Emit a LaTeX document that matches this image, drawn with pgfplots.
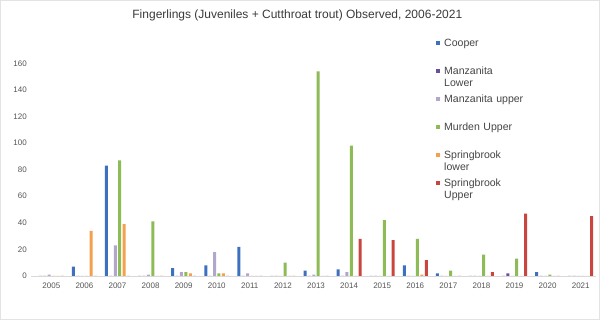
\documentclass[border=0pt]{standalone}
\usepackage{fontspec}
\setmainfont{Liberation Sans}
\usepackage{pgfplots}
\usepackage{pgfplotstable}
\pgfplotsset{compat=1.18}
\definecolor{cooper}{HTML}{3E70C0}
\definecolor{manzlow}{HTML}{6B4E9E}
\definecolor{manzup}{HTML}{B2A6CB}
\definecolor{murden}{HTML}{8DBB55}
\definecolor{sprlow}{HTML}{F3A04F}
\definecolor{sprup}{HTML}{C9453F}
\definecolor{titlegray}{HTML}{3A3A3A}
\definecolor{labelgray}{HTML}{555555}
\definecolor{leggray}{HTML}{444444}
\pgfplotstableread{
x cooper manzlow manzup murden sprlow sprup
0 0 0 1 0 0 0
1 7 0 0 0 34 0
2 83 0 23 87 39 0
3 0 0 1 41 0 0
4 6 0 3 3 2 0
5 8 0 18 2 2 0
6 22 0 2 0 0 0
7 0 0 0 10 0 0
8 4 0 1 154 0 0
9 5 0 3 98 0 28
10 0 0 0 42 0 27
11 8 0 0 28 1 12
12 2 0 0 4 0 0
13 0 0 0 16 0 3
14 0 2 0 13 0 47
15 3 0 0 1 0 0
16 0 0 0 0 0 45
}\datatable
\begin{document}
\begin{tikzpicture}
\path[use as bounding box] (0,0) rectangle (450pt,240pt);
\draw[gray!22, line width=0.9pt] (0.45pt,0.45pt) rectangle (449.55pt,239.55pt);
\begin{axis}[
  at={(23.6pt,33pt)}, anchor=south west,
  scale only axis, width=423.1pt, height=159.5pt,
  xmin=-0.6, xmax=16.45, ymin=0, ymax=160,
  ybar=1.05pt, bar width=2.25pt,
  every axis plot post/.append style={
    legend image code/.code={
      \path (0pt,-8.1pt) (3pt,8.1pt);
      \fill[##1, draw=none] (0pt,5.1pt) rectangle (3pt,8.1pt);
    }
  },
  axis x line*=bottom, axis y line*=left,
  x axis line style={-, gray!30, line width=0.5pt},
  y axis line style={draw=none},
  major tick length=0pt,
  xtick={0,...,16},
  xticklabels={2005,2006,2007,2008,2009,2010,2011,2012,2013,2014,2015,2016,2017,2018,2019,2020,2021},
  ytick={0,20,...,160},
  /pgf/number format/assume math mode=true,
  xticklabel style={font=\fontsize{6}{7}\selectfont, text=labelgray, inner sep=0pt, anchor=north, yshift=-5.35pt},
  yticklabel style={font=\fontsize{6}{7}\selectfont, text=labelgray, inner sep=0pt, anchor=east, xshift=-3.3pt},
  legend style={draw=none, fill=none, inner sep=0pt, at={(0.717,1.12)}, anchor=north west,
    row sep=0pt, column sep=0pt, font=\fontsize{7.9}{9}\selectfont, text=leggray,
    nodes={inner xsep=3pt, inner ysep=0pt, text width=80pt, align=left,
           text height=6.3pt, text depth=14.7pt}},
  legend cell align=left,
  clip=false,
]
\addplot[fill=cooper, draw=none] table[x=x, y=cooper] {\datatable};
\addlegendentry{Cooper}
\addplot[fill=manzlow, draw=none] table[x=x, y=manzlow] {\datatable};
\addlegendentry{Manzanita\\Lower}
\addplot[fill=manzup, draw=none] table[x=x, y=manzup] {\datatable};
\addlegendentry{Manzanita upper}
\addplot[fill=murden, draw=none] table[x=x, y=murden] {\datatable};
\addlegendentry{Murden Upper}
\addplot[fill=sprlow, draw=none] table[x=x, y=sprlow] {\datatable};
\addlegendentry{Springbrook\\lower}
\addplot[fill=sprup, draw=none] table[x=x, y=sprup] {\datatable};
\addlegendentry{Springbrook\\Upper}
\end{axis}
\node[font=\fontsize{9}{11}\selectfont, text=titlegray] at (223pt,228.75pt) {Fingerlings (Juveniles + Cutthroat trout) Observed, 2006-2021};
\end{tikzpicture}
\end{document}
